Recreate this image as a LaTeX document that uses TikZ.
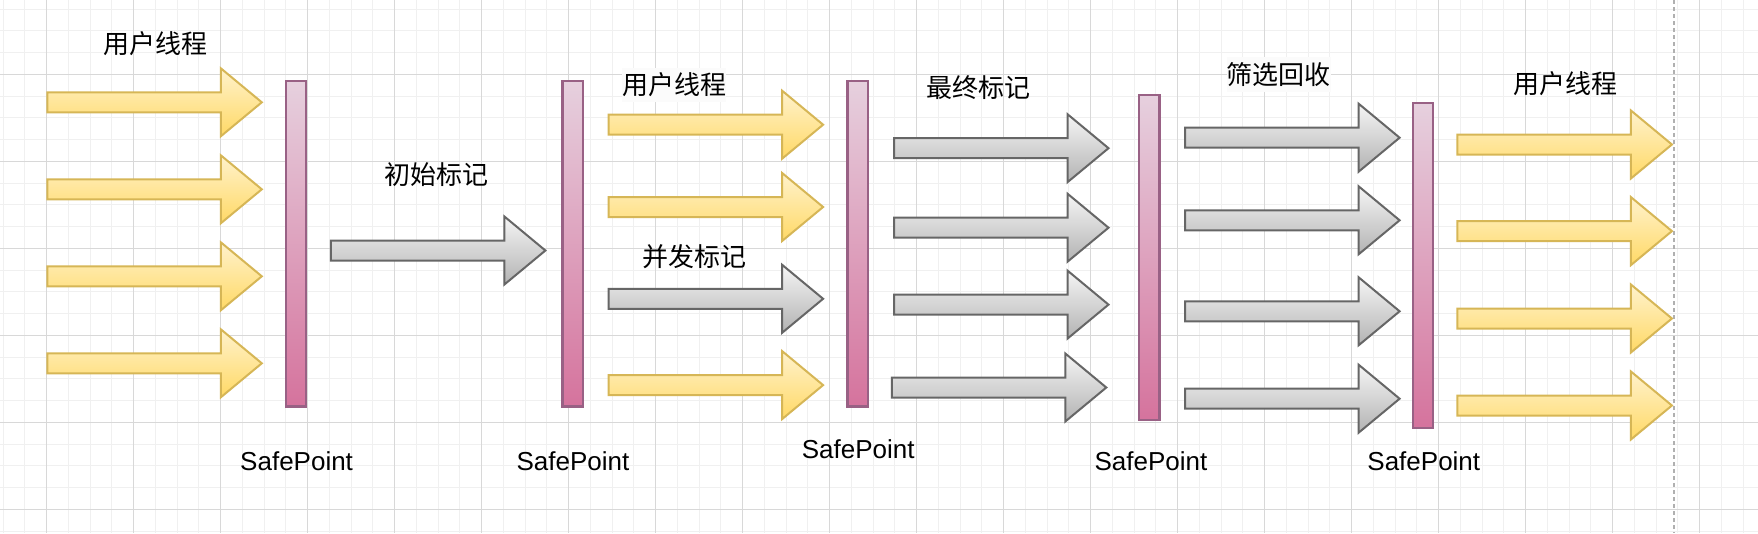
\documentclass[tikz,border=0pt]{standalone}
\usepackage{fontspec}
\setmainfont{Liberation Sans}
\newfontfamily\cjkfont{Noto Sans CJK SC}
\definecolor{ylTop}{HTML}{FFF2CC}
\definecolor{ylBot}{HTML}{FFD966}
\definecolor{ylLine}{HTML}{D6B656}
\definecolor{gyTop}{HTML}{F5F5F5}
\definecolor{gyBot}{HTML}{B3B3B3}
\definecolor{gyLine}{HTML}{666666}
\definecolor{pkTop}{HTML}{E6D0DE}
\definecolor{pkBot}{HTML}{D5739D}
\definecolor{pkLine}{HTML}{996185}
\definecolor{gridMinor}{HTML}{F0F0F0}
\definecolor{gridMajor}{HTML}{D8D8D8}
\definecolor{pageLine}{HTML}{B0B0B0}
\definecolor{lblBg}{HTML}{FBFBFB}
\tikzset{
  yarr/.style={draw=ylLine, top color=ylTop, bottom color=ylBot, line width=2pt, line join=miter},
  garr/.style={draw=gyLine, top color=gyTop, bottom color=gyBot, line width=2pt, line join=miter},
  sbar/.style={draw=pkLine, top color=pkTop, bottom color=pkBot, line width=2.2pt,
    minimum width=20.4pt, minimum height=325.1pt, inner sep=0pt, rectangle},
  cjklbl/.style={font=\cjkfont\fontsize{26}{30}\selectfont, inner sep=0pt, text=black},
  boxlbl/.style={cjklbl, fill=lblBg, inner ysep=5pt},
  splbl/.style={font=\fontsize{26}{30}\selectfont, inner sep=0pt, anchor=base, text=black},
  mingrid/.style={draw=gridMinor, line width=1pt},
  majgrid/.style={draw=gridMajor, line width=1pt},
}
\newcommand\blockarr[4]{%
  \path[#1, shift={(#3,#4)}] (1,-10) -- (174.5,-10) -- (174.5,-34) -- (215.5,0)
     -- (174.5,34) -- (174.5,10) -- (1,10) -- cycle;
  \coordinate (#2) at (#3,#4);}
\begin{document}
\begin{tikzpicture}[x=1pt,y=-1pt]
\useasboundingbox (0,0) rectangle (1758,533);
\fill[white] (0,0) rectangle (1758,533);
% grid
\foreach \i in {0,...,80} {\draw[mingrid] ({3.2+21.75*\i},0) -- ({3.2+21.75*\i},533);}
\foreach \i in {0,...,24} {\draw[mingrid] (0,{9.05+21.75*\i}) -- (1758,{9.05+21.75*\i});}
\foreach \i in {0,...,19} {\draw[majgrid] ({46.7+87*\i},0) -- ({46.7+87*\i},533);}
\foreach \i in {0,...,5} {\draw[majgrid] (0,{74.3+87*\i}) -- (1758,{74.3+87*\i});}
\draw[pageLine, line width=1.2pt, dash pattern=on 4pt off 3pt] (1674,0) -- (1674,533);

% group 1 : user threads
\blockarr{yarr}{a11}{46.3}{102.3}
\blockarr{yarr}{a12}{46.3}{189.3}
\blockarr{yarr}{a13}{46.3}{276.3}
\blockarr{yarr}{a14}{46.3}{363.3}
\node[sbar] (b1) at (296,243.85) {};
\node[splbl] (sp1) at (296.6,470.8) {SafePoint};
\node[cjklbl] (t1) at (155,43.3) {用户线程};

% initial mark
\blockarr{garr}{a21}{329.9}{250.5}
\node[cjklbl] (t2) at (436.7,174.4) {初始标记};
\node[sbar] (b2) at (572.7,243.85) {};
\node[splbl] (sp2) at (572.9,470.8) {SafePoint};

% group 2 : concurrent mark
\node[boxlbl] (t3) at (674,85) {用户线程};
\blockarr{yarr}{a31}{607.6}{124.7}
\blockarr{yarr}{a32}{607.6}{207}
\blockarr{garr}{a33}{607.6}{298.8}
\blockarr{yarr}{a34}{607.6}{385.1}
\node[cjklbl] (t4) at (694.8,256.6) {并发标记};
\node[sbar] (b3) at (857.6,243.85) {};
\node[splbl] (sp3) at (858.2,458.9) {SafePoint};

% group 3 : final mark
\node[cjklbl] (t5) at (978.3,87.4) {最终标记};
\blockarr{garr}{a41}{893}{148.2}
\blockarr{garr}{a42}{893}{227.7}
\blockarr{garr}{a43}{893}{304.6}
\blockarr{garr}{a44}{890.8}{387.5}
\node[sbar] (b4) at (1149.3,257.3) {};
\node[splbl] (sp4) at (1151,470.8) {SafePoint};

% group 4 : cleanup
\node[boxlbl] (t6) at (1278.5,74.5) {筛选回收};
\blockarr{garr}{a51}{1184.1}{137.7}
\blockarr{garr}{a52}{1184.1}{220.3}
\blockarr{garr}{a53}{1184.1}{311.3}
\blockarr{garr}{a54}{1184.1}{398.7}
\node[sbar] (b5) at (1423,265.65) {};
\node[splbl] (sp5) at (1423.8,470.8) {SafePoint};

% group 5 : user threads
\node[cjklbl] (t7) at (1565,84.1) {用户线程};
\blockarr{yarr}{a61}{1456.4}{144.5}
\blockarr{yarr}{a62}{1456.4}{231.1}
\blockarr{yarr}{a63}{1456.4}{318.5}
\blockarr{yarr}{a64}{1456.4}{405.5}
\end{tikzpicture}
\end{document}
